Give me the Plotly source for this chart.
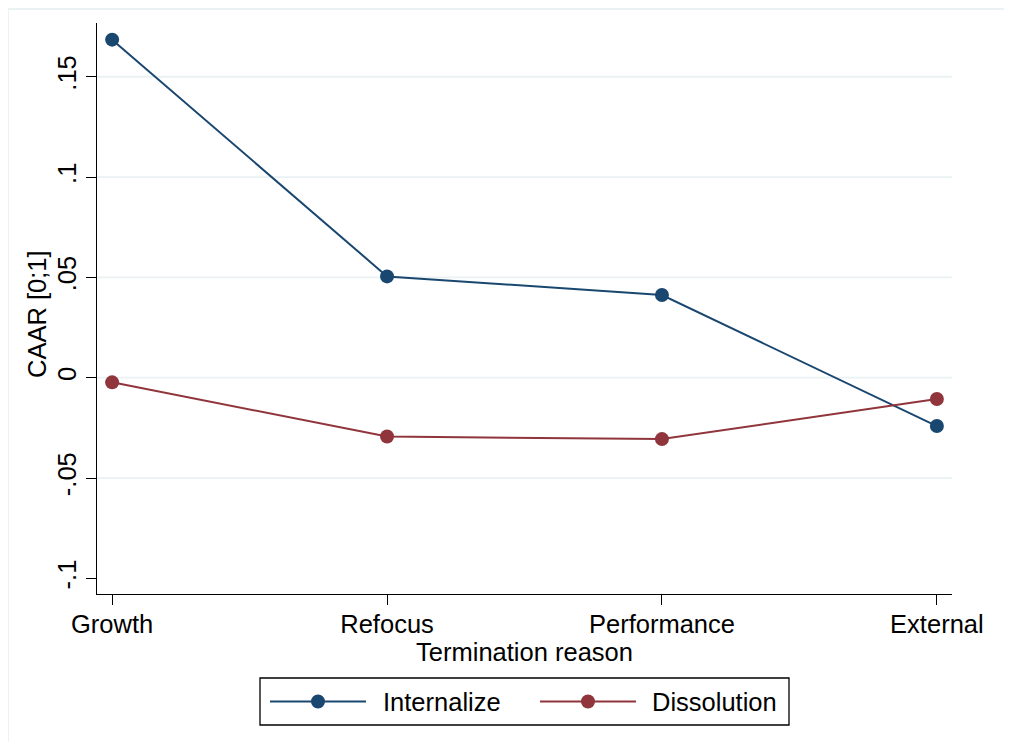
import plotly.graph_objects as go

categories = ["Growth", "Refocus", "Performance", "External"]
internalize = [0.1685, 0.0505, 0.0412, -0.0241]
dissolution = [-0.0023, -0.0293, -0.0306, -0.0106]
series_names = ["Internalize", "Dissolution"]
y_tickvals = [-0.1, -0.05, 0, 0.05, 0.1, 0.15]
y_ticktext = ["-.1", "-.05", "0", ".05", ".1", ".15"]
grid_vals = [-0.05, 0, 0.05, 0.1, 0.15]

C_INT = "#1a476f"
C_DIS = "#90353b"
GRID = "#eaf2f3"
FONT = "Liberation Sans, Arial, sans-serif"
FS = 25.5

OFF = 8  # default page body margin
W, H = 1012 - OFF, 742 - OFF
L, R, T, B = 97 - OFF, 952 - OFF, 23 - OFF, 594 - OFF

def px(x):
    return (x - OFF - L) / (R - L)

def py(y):
    return (B - (y - OFF)) / (B - T)

fig = go.Figure()
for name, vals, col in [(series_names[0], internalize, C_INT), (series_names[1], dissolution, C_DIS)]:
    fig.add_trace(go.Scatter(
        x=categories, y=vals, mode="lines+markers", name=name,
        line=dict(color=col, width=2), marker=dict(color=col, size=14),
        showlegend=False, cliponaxis=False))

shapes = []
for g in grid_vals:
    shapes.append(dict(type="line", xref="paper", yref="y", x0=0, x1=1, y0=g, y1=g,
                       line=dict(color=GRID, width=1.8), layer="below"))
# outer graph region border
shapes.append(dict(type="rect", xref="paper", yref="paper", x0=px(8), x1=px(1030),
                   y0=py(760), y1=py(9), line=dict(color=GRID, width=1.8), layer="below"))
# legend box
shapes.append(dict(type="rect", xref="paper", yref="paper", x0=px(260), x1=px(789),
                   y0=py(725), y1=py(678), line=dict(color="black", width=1.3)))
annotations = []
legend_items = [(270, 366, 318, 383, C_INT, series_names[0]), (540, 636, 588, 652, C_DIS, series_names[1])]
ly = 701.5
for x0, x1, xm, xt, col, name in legend_items:
    shapes.append(dict(type="line", xref="paper", yref="paper", x0=px(x0), x1=px(x1),
                       y0=py(ly), y1=py(ly), line=dict(color=col, width=2)))
    shapes.append(dict(type="circle", xref="paper", yref="paper", x0=px(xm - 7), x1=px(xm + 7),
                       y0=py(ly + 7), y1=py(ly - 7), fillcolor=col, line=dict(color=col, width=0)))
    annotations.append(dict(text=name, xref="paper", yref="paper", x=px(xt - 2), y=py(ly),
                            xanchor="left", yanchor="middle", showarrow=False,
                            font=dict(size=FS, color="black", family=FONT)))
# y axis title
annotations.append(dict(text="CAAR [0;1]", xref="paper", yref="paper", x=px(37), y=py(314),
                        xanchor="center", yanchor="middle", textangle=-90, showarrow=False,
                        font=dict(size=FS, color="black", family=FONT)))

fig.update_layout(
    width=W, height=H,
    margin=dict(l=L, r=W - R, t=T, b=H - B),
    paper_bgcolor="white", plot_bgcolor="white",
    font=dict(family=FONT, size=FS, color="black"),
    shapes=shapes, annotations=annotations, showlegend=False,
    xaxis=dict(range=[-0.055, 3.055], showgrid=False, zeroline=False,
               showline=True, linecolor="black", linewidth=1.3,
               ticks="outside", ticklen=10, tickwidth=1.3, tickcolor="black",
               ticklabelstandoff=-3,
               tickfont=dict(size=FS), title=dict(text="Termination reason", standoff=0, font=dict(size=FS))),
    yaxis=dict(range=[-0.1078, 0.1768], showgrid=False, zeroline=False,
               showline=True, linecolor="black", linewidth=1.3,
               ticks="outside", ticklen=10, tickwidth=1.3, tickcolor="black",
               tickvals=y_tickvals, ticktext=y_ticktext, tickangle=-90,
               tickfont=dict(size=FS)),
)
fig.write_html("out.html")
